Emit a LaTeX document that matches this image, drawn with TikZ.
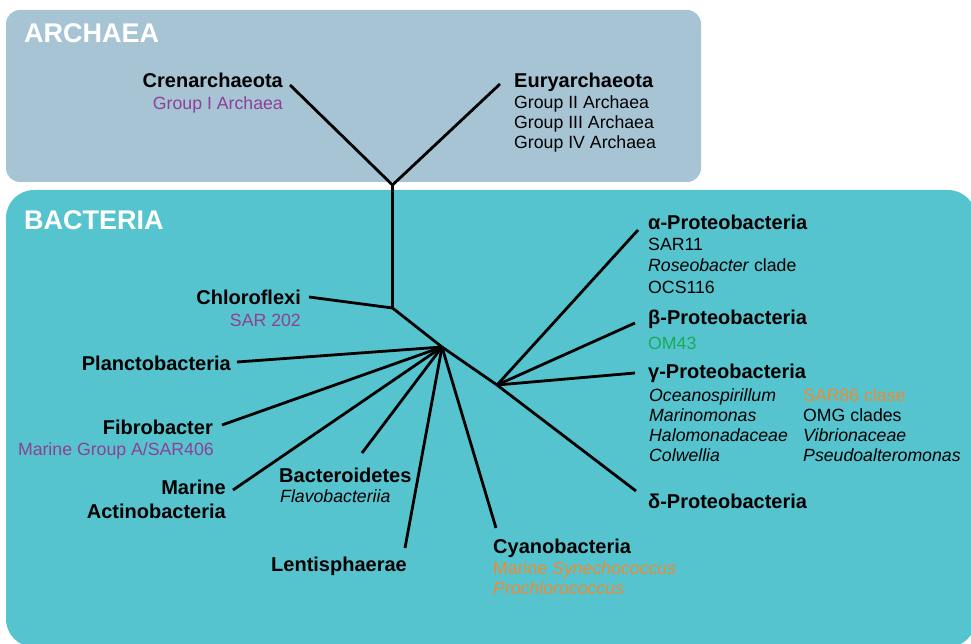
\documentclass[tikz,border=0pt]{standalone}
\usepackage{fontspec}
\setmainfont{Liberation Sans}
\usepackage{tikz}
\usetikzlibrary{positioning}

\definecolor{archaeabg}{HTML}{A6C4D4}
\definecolor{bacteriabg}{HTML}{55C4CF}
\definecolor{grouppurple}{HTML}{8E3F98}
\definecolor{grouporange}{HTML}{EE8A32}
\definecolor{groupgreen}{HTML}{1AAA55}

\tikzset{
	kingdom/.style={font=\fontsize{27}{32}\bfseries\selectfont, text=white, inner sep=0pt, yshift=-1pt},
	phylum/.style={font=\fontsize{20}{24}\bfseries\selectfont, inner sep=0pt, yshift=-1pt},
	clade/.style={font=\fontsize{17.7}{21}\selectfont, inner sep=0pt, yshift=-1pt},
	branch/.style={line width=2.8pt, line join=miter}
}

\begin{document}
\begin{tikzpicture}[x=1pt, y=-1pt]
			\clip (0,0) rectangle (971,644);
			\fill[archaeabg, rounded corners=14pt] (6,10) rectangle (701,182);
			\fill[bacteriabg, rounded corners=28pt] (6,190) rectangle (976,647);
			\node[kingdom, anchor=base west] (archaea) at (24,42) {ARCHAEA};
			\node[kingdom, anchor=base west] (bacteria) at (24,229) {BACTERIA};

			\coordinate (arcRoot) at (392.5,185);
			\coordinate (crenTip) at (290,85);
			\coordinate (euryTip) at (500,84);
			\coordinate (bacRoot) at (392.5,308);
			\coordinate (chloroTip) at (309,297);
			\coordinate (hub) at (442,347);
			\coordinate (planctoTip) at (237,362);
			\coordinate (fibroTip) at (222,425);
			\coordinate (actinoTip) at (233,490);
			\coordinate (bacteroTip) at (362,453);
			\coordinate (lentiTip) at (405,548);
			\coordinate (cyanoTip) at (496,528);
			\coordinate (proteo) at (497,385);
			\coordinate (alphaTip) at (638,230);
			\coordinate (betaTip) at (635,323);
			\coordinate (gammaTip) at (635,373);
			\coordinate (deltaTip) at (636,491);

			\draw[branch] (crenTip) -- (arcRoot) -- (euryTip);
			\draw[branch] (arcRoot) -- (bacRoot) -- (hub) -- (proteo);
			\draw[branch] (bacRoot) -- (chloroTip);
			\draw[branch] (hub) -- (planctoTip);
			\draw[branch] (hub) -- (fibroTip);
			\draw[branch] (hub) -- (actinoTip);
			\draw[branch] (hub) -- (bacteroTip);
			\draw[branch] (hub) -- (lentiTip);
			\draw[branch] (hub) -- (cyanoTip);
			\draw[branch] (proteo) -- (alphaTip);
			\draw[branch] (proteo) -- (betaTip);
			\draw[branch] (proteo) -- (gammaTip);
			\draw[branch] (proteo) -- (deltaTip);

			\node[phylum, anchor=base east] (cren) at (283,87) {Crenarchaeota};
			\node[clade, anchor=base east, text=grouppurple] (crenA) at (283,109) {Group I Archaea};
			\node[phylum, anchor=base west] (eury) at (514,87) {Euryarchaeota};
			\node[clade, anchor=base west] (euryA) at (514,108) {Group II Archaea};
			\node[clade, anchor=base west] (euryB) at (514,128) {Group III Archaea};
			\node[clade, anchor=base west] (euryC) at (514,148) {Group IV Archaea};

			\node[phylum, anchor=base east] (chloro) at (301,303) {Chloroflexi};
			\node[clade, anchor=base east, text=grouppurple] (chloroA) at (301,325) {SAR 202};
			\node[phylum, anchor=base east] (plancto) at (231,369) {Planctobacteria};
			\node[phylum, anchor=base east] (fibro) at (213,433) {Fibrobacter};
			\node[clade, anchor=base east, text=grouppurple] (fibroA) at (214,454) {Marine Group A/SAR406};
			\node[phylum, anchor=base east] (actino) at (226,493) {Marine};
			\node[phylum, anchor=base east] (actinoB) at (226,517) {Actinobacteria};
			\node[phylum, anchor=base west] (bactero) at (279,481) {Bacteroidetes};
			\node[clade, anchor=base west] (bacteroA) at (280,501) {\itshape Flavobacteriia};
			\node[phylum, anchor=base west] (lenti) at (271,570) {Lentisphaerae};
			\node[phylum, anchor=base west] (cyano) at (493,552) {Cyanobacteria};
			\node[clade, anchor=base west, text=grouporange] (cyanoA) at (493,573) {Marine \textit{Synechococcus}};
			\node[clade, anchor=base west, text=grouporange] (cyanoB) at (493,593) {\itshape Prochlorococcus};

			\node[phylum, anchor=base west] (alpha) at (648,229) {α-Proteobacteria};
			\node[clade, anchor=base west] (alphaA) at (648,250) {SAR11};
			\node[clade, anchor=base west] (alphaB) at (648,271) {\textit{Roseobacter} clade};
			\node[clade, anchor=base west] (alphaC) at (648,292) {OCS116};
			\node[phylum, anchor=base west] (beta) at (648,323) {β-Proteobacteria};
			\node[clade, anchor=base west, text=groupgreen] (betaA) at (648,348) {OM43};
			\node[phylum, anchor=base west] (gamma) at (648,377) {γ-Proteobacteria};
			\node[clade, anchor=base west] (gammaA) at (649,400) {\itshape Oceanospirillum};
			\node[clade, anchor=base west] (gammaB) at (649,420) {\itshape Marinomonas};
			\node[clade, anchor=base west] (gammaC) at (649,440) {\itshape Halomonadaceae};
			\node[clade, anchor=base west] (gammaD) at (649,460) {\itshape Colwellia};
			\node[clade, anchor=base west, text=grouporange] (gammaE) at (803,400) {SAR86 clase};
			\node[clade, anchor=base west] (gammaF) at (803,420) {OMG clades};
			\node[clade, anchor=base west] (gammaG) at (803,440) {\itshape Vibrionaceae};
			\node[clade, anchor=base west] (gammaH) at (803,460) {\itshape Pseudoalteromonas};
			\node[phylum, anchor=base west] (delta) at (648,507) {δ-Proteobacteria};
		\end{tikzpicture}
\end{document}
